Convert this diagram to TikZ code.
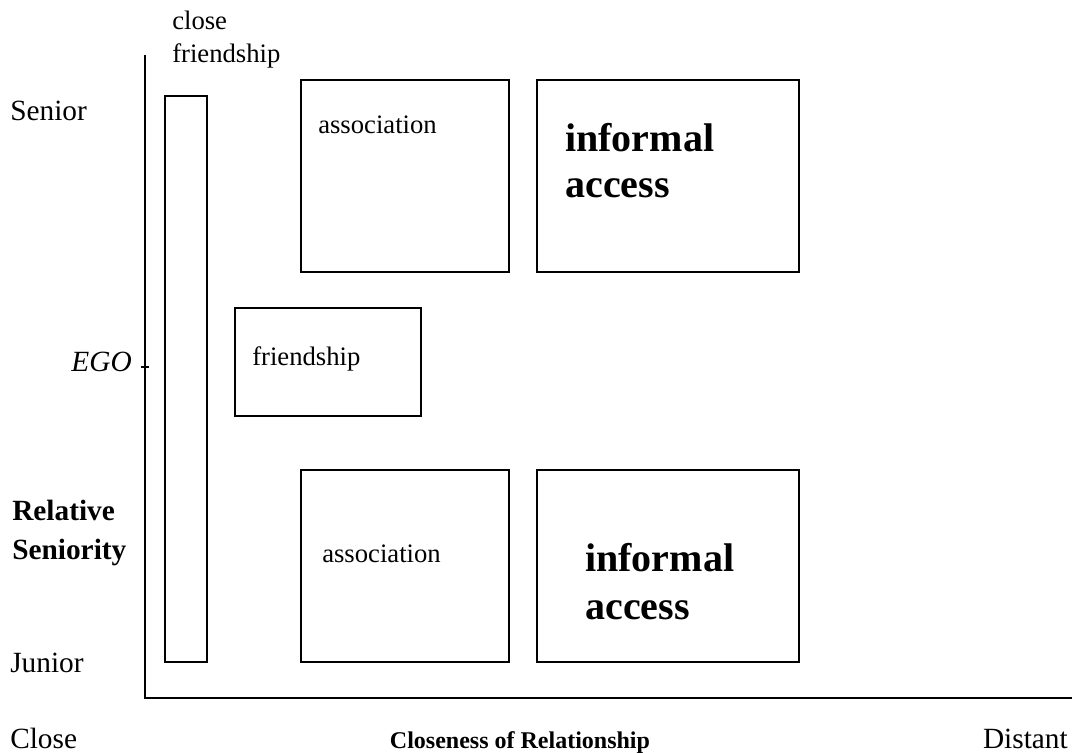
\documentclass[tikz,border=0pt]{standalone}
\usepackage{fontspec}
\setmainfont{Liberation Serif}
\begin{document}
\begin{tikzpicture}[x=0.75pt,y=-0.75pt,
  box/.style={draw=black,line width=1.3pt},
  axis/.style={draw=black,line width=1.3pt},
  lab/.style={anchor=base west,inner sep=0pt,font=\fontsize{22}{26}\selectfont},
  blab/.style={anchor=base west,inner sep=0pt,font=\fontsize{22}{26}\selectfont\bfseries},
  boxtxt/.style={anchor=base west,inner sep=0pt,font=\fontsize{20}{24}\selectfont},
  big/.style={anchor=base west,inner sep=0pt,font=\fontsize{30}{35}\selectfont\bfseries}]
\useasboundingbox (0,0) rectangle (1072,753);
% axes
\coordinate (top) at (145,55);
\coordinate (origin) at (145,698);
\coordinate (xend) at (1072,698);
\draw[axis] (top) -- (origin) -- (xend);
\coordinate (egoa) at (141,367);
\coordinate (egob) at (149,367);
\draw[line width=1pt] (egoa) -- (egob);
% boxes
\draw[box] (165,96) rectangle (207,662);
\draw[box] (301,80) rectangle (509,272);
\draw[box] (537,80) rectangle (799,272);
\draw[box] (235,308) rectangle (421,416);
\draw[box] (301,470) rectangle (509,662);
\draw[box] (537,470) rectangle (799,662);
% labels
\node[boxtxt] (cl1) at (172,30) {close};
\node[boxtxt] (cl2) at (172,62) {friendship};
\node[lab] (senior) at (10,120) {Senior};
\node[lab] (junior) at (10,672) {Junior};
\node[blab] (rel1) at (12,520) {Relative};
\node[blab] (rel2) at (12,559) {Seniority};
\node[anchor=base east,inner sep=0pt,font=\fontsize{22}{26}\selectfont\itshape] (ego) at (132,371) {EGO};
\node[lab] (close) at (10,748) {Close};
\node[anchor=base east,inner sep=0pt,font=\fontsize{22}{26}\selectfont] (distant) at (1068,748) {Distant};
\node[anchor=base,inner sep=0pt,font=\fontsize{18}{22}\selectfont\bfseries] (xtitle) at (520,748) {Closeness of Relationship};
\node[boxtxt] (a1) at (318,133) {association};
\node[boxtxt] (a2) at (322,562) {association};
\node[boxtxt] (fr) at (252,365) {friendship};
\node[big] (i1a) at (565,151) {informal};
\node[big] (i1b) at (565,197) {access};
\node[big] (i2a) at (585,571) {informal};
\node[big] (i2b) at (585,619) {access};
\end{tikzpicture}
\end{document}
